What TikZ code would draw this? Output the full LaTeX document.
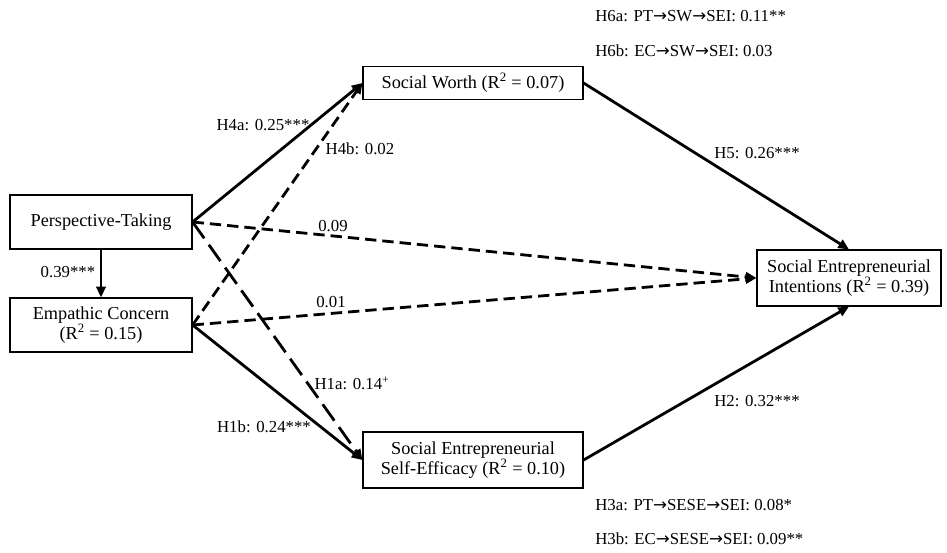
\documentclass[tikz,border=0pt]{standalone}
\usepackage{fontspec}
\setmainfont{Liberation Serif}
\newfontfamily\arrowfont{DejaVu Sans}
\usetikzlibrary{arrows.meta}
\newcommand{\ra}{{\arrowfont\fontsize{12.5}{14}\selectfont →}}
\begin{document}
\begin{tikzpicture}[x=0.75pt,y=-0.75pt]
\tikzstyle{construct}=[draw=black,line width=0.9pt,inner sep=0pt,align=center,font=\fontsize{13.7}{15.5}\selectfont]
\tikzstyle{coef}=[inner sep=0pt,font=\fontsize{12.6}{14}\selectfont]
\tikzstyle{path}=[line width=2.1pt,-{Triangle[length=8pt,width=7pt]}]
\tikzstyle{ns}=[path,dash pattern=on 8.5pt off 4.5pt]
\tikzstyle{nslong}=[path,dash pattern=on 15pt off 6pt]
\useasboundingbox (0,0) rectangle (947,553);
\node [construct,minimum width=136.5pt,minimum height=40.5pt] (pt) at (101,222) {Perspective-Taking};
\node [construct,minimum width=136.5pt,minimum height=40.5pt] (ec) at (101,325) {Empathic Concern\\(R\textsuperscript{2} = 0.15)};
\node [construct,minimum width=165pt,minimum height=24.75pt] (sw) at (473,83) {Social Worth (R\textsuperscript{2} = 0.07)};
\node [construct,minimum width=165pt,minimum height=42pt] (sese) at (473,460) {Social Entrepreneurial\\Self-Efficacy (R\textsuperscript{2} = 0.10)};
\node [construct,minimum width=138pt,minimum height=42pt] (sei) at (849,278) {Social Entrepreneurial\\Intentions (R\textsuperscript{2} = 0.39)};
\draw [path] (pt) -- (ec);
\draw [path] (pt.east) -- (sw.west);
\draw [ns] (ec.east) -- (sw.west);
\draw [ns] (pt.east) -- (sei.west);
\draw [ns] (ec.east) -- (sei.west);
\draw [nslong] (pt.east) -- (sese.west);
\draw [path] (ec.east) -- (sese.west);
\draw [path] (sw.east) -- (sei.north);
\draw [path] (sese.east) -- (sei.south);
\node [coef] (lptec) at (68,272) {0.39***};
\node [coef] (lh4a) at (263,125) {H4a: 0.25***};
\node [coef] (lh4b) at (360,149) {H4b: 0.02};
\node [coef] (lptsei) at (333,226) {0.09};
\node [coef] (lecsei) at (331,302) {0.01};
\node [coef] (lh1a) at (352,383) {H1a: 0.14\textsuperscript{+}};
\node [coef] (lh1b) at (264,427) {H1b: 0.24***};
\node [coef] (lh5) at (757,153) {H5: 0.26***};
\node [coef] (lh2) at (757,401) {H2: 0.32***};
\node [coef,anchor=west] (lh6a) at (595,16) {H6a: PT\ra SW\ra SEI: 0.11**};
\node [coef,anchor=west] (lh6b) at (595,51) {H6b: EC\ra SW\ra SEI: 0.03};
\node [coef,anchor=west] (lh3a) at (595,505) {H3a: PT\ra SESE\ra SEI: 0.08*};
\node [coef,anchor=west] (lh3b) at (595,539) {H3b: EC\ra SESE\ra SEI: 0.09**};
\end{tikzpicture}
\end{document}
